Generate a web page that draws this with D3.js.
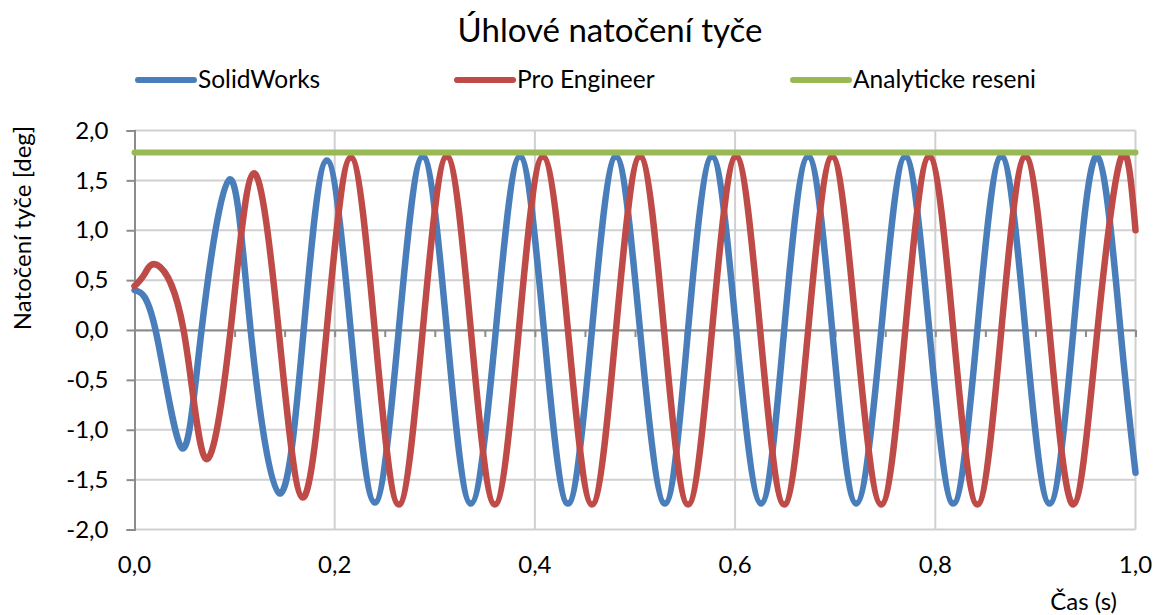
<!DOCTYPE html>
<html><head><meta charset="utf-8">
<script src="https://cdn.jsdelivr.net/npm/d3@7"></script>
<style>
body{margin:0;background:#fff}
svg text{font-family:Lato,"Open Sans",sans-serif;fill:#000}
</style>
</head><body>
<svg id="chart" width="1156" height="615"></svg>
<script>
const chartTitle = "Úhlové natočení tyče";
const yAxisTitle = "Natočení tyče [deg]";
const xAxisTitle = "Čas (s)";
const seriesNames = ["SolidWorks", "Pro Engineer", "Analyticke reseni"];
const seriesColors = ["#4a7ebb", "#be4b48", "#98b954"];

const xTicks = [0, 0.2, 0.4, 0.6, 0.8, 1.0];
const xMinorTicks = [0.05, 0.1, 0.15, 0.2, 0.25, 0.3, 0.35, 0.4, 0.45, 0.5, 0.55, 0.6, 0.65, 0.7, 0.75, 0.8, 0.85, 0.9, 0.95, 1.0];
const yTicks = [-2, -1.5, -1, -0.5, 0, 0.5, 1, 1.5, 2];

const solidWorksT = [0, 0.021, 0.047, 0.067, 0.095, 0.116, 0.145, 0.169, 0.192, 0.216, 0.240, 0.264, 0.288, 0.312, 0.336, 0.361, 0.385, 0.409, 0.433, 0.457, 0.481, 0.505, 0.530, 0.553, 0.577, 0.601, 0.626, 0.649, 0.673, 0.697, 0.721, 0.746, 0.770, 0.794, 0.818, 0.842, 0.866, 0.890, 0.914, 0.938, 0.962, 0.985, 1.0];
const solidWorksV = [0.40, 0, -1.18, 0, 1.51, 0, -1.64, 0, 1.70, 0, -1.73, 0, 1.74, 0, -1.74, 0, 1.74, 0, -1.74, 0, 1.74, 0, -1.74, 0, 1.74, 0, -1.74, 0, 1.74, 0, -1.74, 0, 1.74, 0, -1.74, 0, 1.74, 0, -1.74, 0, 1.74, 0, -1.43];

const proEngineerT = [0, 0.010, 0.023, 0.049, 0.071, 0.096, 0.119, 0.144, 0.168, 0.192, 0.216, 0.240, 0.264, 0.288, 0.312, 0.336, 0.360, 0.384, 0.408, 0.433, 0.457, 0.481, 0.505, 0.529, 0.553, 0.577, 0.601, 0.625, 0.649, 0.673, 0.697, 0.721, 0.746, 0.770, 0.794, 0.818, 0.842, 0.866, 0.890, 0.914, 0.938, 0.962, 0.986, 1.0];
const proEngineerV = [0.44, 0.56, 0.65, 0, -1.29, 0, 1.57, 0, -1.68, 0, 1.73, 0, -1.75, 0, 1.74, 0, -1.75, 0, 1.74, 0, -1.75, 0, 1.74, 0, -1.75, 0, 1.74, 0, -1.75, 0, 1.74, 0, -1.75, 0, 1.74, 0, -1.75, 0, 1.74, 0, -1.75, 0, 1.74, 1.0];

const analyticT = [0, 1.0];
const analyticV = [1.78, 1.78];

const svg = d3.select("#chart");
const x = d3.scaleLinear().domain([0, 1]).range([134.5, 1135.5]);
const y = d3.scaleLinear().domain([-2, 2]).range([529.5, 130.5]);
const fmt = v => d3.format(".1f")(v).replace(".", ",").replace("−", "-");

// horizontal gridlines
svg.append("g").selectAll("line").data(yTicks).join("line")
  .attr("x1", x(0)).attr("x2", x(1)).attr("y1", d => y(d)).attr("y2", d => y(d))
  .attr("stroke", "#d0d0d0").attr("stroke-width", 2);
// vertical gridlines
svg.append("g").selectAll("line").data(xTicks.slice(1)).join("line")
  .attr("x1", d => x(d)).attr("x2", d => x(d)).attr("y1", y(2)).attr("y2", y(-2))
  .attr("stroke", "#d0d0d0").attr("stroke-width", 2);

// y axis
const yAxis = d3.axisLeft(y).tickValues(yTicks).tickFormat(fmt).tickSize(8).tickPadding(18);
const gy = svg.append("g").attr("transform", `translate(${x(0)},0)`).call(yAxis);
gy.select(".domain").attr("stroke", "#8c8c8c").attr("stroke-width", 2);
gy.selectAll(".tick line").attr("stroke", "#8c8c8c").attr("stroke-width", 2);
gy.selectAll(".tick text").attr("font-size", 24).attr("font-family", "Lato, 'Open Sans', sans-serif").attr("fill", "#000");

// x axis line at zero with minor ticks
const xAxis = d3.axisBottom(x).tickValues(xMinorTicks).tickFormat("").tickSize(7).tickSizeOuter(0);
const gx = svg.append("g").attr("transform", `translate(0,${y(0)})`).call(xAxis);
gx.select(".domain").attr("stroke", "#8c8c8c").attr("stroke-width", 2);
gx.selectAll(".tick line").attr("stroke", "#8c8c8c").attr("stroke-width", 2);

// x tick labels at bottom
svg.append("g").selectAll("text").data(xTicks).join("text")
  .attr("x", d => x(d)).attr("y", 573).attr("text-anchor", "middle")
  .attr("font-size", 24).text(fmt);

// series
const line = d3.line().x(d => x(d[0])).y(d => y(d[1])).curve(d3.curveNatural);
const seriesData = [
  d3.zip(solidWorksT, solidWorksV),
  d3.zip(proEngineerT, proEngineerV),
  d3.zip(analyticT, analyticV)
];
const widths = [6.5, 6.5, 6];
seriesData.forEach((data, i) => {
  svg.append("path").datum(data).attr("d", line)
    .attr("fill", "none").attr("stroke", seriesColors[i]).attr("stroke-width", widths[i])
    .attr("stroke-linecap", "round").attr("stroke-linejoin", "round");
});

// title
svg.append("text").attr("x", 610).attr("y", 42).attr("text-anchor", "middle")
  .attr("font-size", 33).text(chartTitle);

// legend
const legendX = [138, 457, 793];
const lg = svg.append("g").selectAll("g").data(seriesNames).join("g")
  .attr("transform", (d, i) => `translate(${legendX[i]},80)`);
lg.append("line").attr("x1", 0).attr("x2", 56).attr("y1", 0).attr("y2", 0)
  .attr("stroke", (d, i) => seriesColors[i]).attr("stroke-width", 6).attr("stroke-linecap", "round");
lg.append("text").attr("x", 60).attr("y", 8).attr("font-size", 24.5).text(d => d);

// axis titles
svg.append("text").attr("transform", "translate(31,228) rotate(-90)")
  .attr("text-anchor", "middle").attr("font-size", 24).text(yAxisTitle);
svg.append("text").attr("x", 1117).attr("y", 610).attr("text-anchor", "end")
  .attr("font-size", 24).text(xAxisTitle);
</script>
</body></html>
